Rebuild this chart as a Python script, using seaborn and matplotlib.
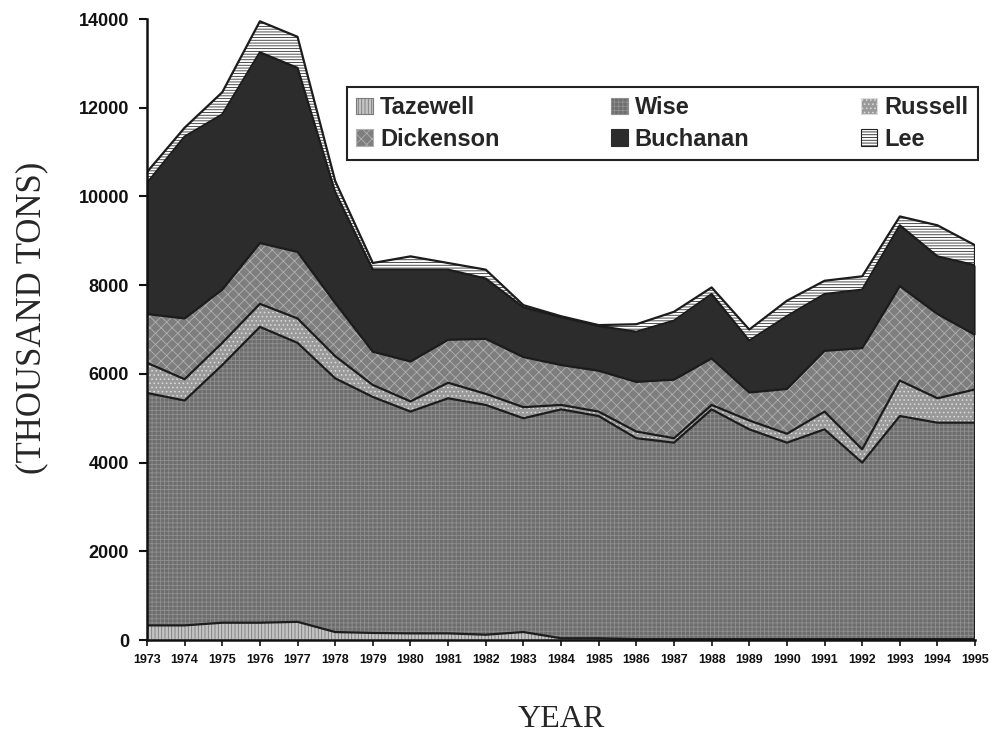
import numpy as np
import pandas as pd
import matplotlib
matplotlib.use("Agg")
import matplotlib.pyplot as plt
from matplotlib.patches import Patch
import seaborn as sns

# Données (milliers de tonnes)
years = list(range(1973, 1996))
counties = ["Tazewell", "Wise", "Russell", "Dickenson", "Buchanan", "Lee"]

tazewell = [330, 330, 390, 390, 410, 180, 160, 150, 150, 120, 180, 40,
            40, 20, 20, 20, 20, 20, 20, 20, 20, 20, 20]
wise = [5240, 5070, 5810, 6670, 6290, 5720, 5320, 5000, 5300, 5180, 4820, 5160,
        5010, 4530, 4430, 5180, 4730, 4430, 4730, 3980, 5030, 4880, 4880]
russell = [680, 480, 500, 520, 550, 500, 270, 230, 350, 250, 250, 100,
           100, 150, 100, 100, 200, 200, 400, 300, 800, 550, 750]
dickenson = [1100, 1370, 1200, 1370, 1500, 1200, 750, 900, 970, 1240, 1130, 900,
             920, 1120, 1320, 1050, 630, 1010, 1370, 2280, 2130, 1900, 1230]
buchanan = [2950, 4100, 3950, 4300, 4150, 2500, 1850, 2070, 1580, 1360, 1120, 1080,
            1010, 1130, 1330, 1450, 1170, 1640, 1280, 1320, 1370, 1300, 1570]
lee = [250, 200, 500, 700, 700, 250, 150, 300, 150, 200, 50, 20,
       20, 170, 200, 150, 250, 350, 300, 300, 200, 700, 450]

# Styles (niveaux de gris + motifs)
face_colors = ["#c4c4c4", "#6d6d6d", "#9a9a9a", "#7e7e7e", "#2c2c2c", "#ffffff"]
hatch_colors = ["#7a7a7a", "#8f8f8f", "#dcdcdc", "#b0b0b0", "#2c2c2c", "#303030"]
hatches = ["|||||", "++++", "....", "xxx", None, "------"]

sns.set_theme(style="ticks")
plt.rcParams['font.family'] = ['Liberation Sans', 'DejaVu Sans']
plt.rcParams['hatch.linewidth'] = 0.6

series = np.array([tazewell, wise, russell, dickenson, buchanan, lee], dtype=float)
tops = np.cumsum(series, axis=0)
bottoms = np.vstack([np.zeros(len(years)), tops[:-1]])

fig = plt.figure(figsize=(9.93, 7.36), dpi=100)
ax = fig.add_axes([0.148, 0.1304, 0.834, 0.8437])

# Surfaces empilées
for i, name in enumerate(counties):
    ax.fill_between(years, bottoms[i], tops[i], facecolor=face_colors[i],
                    edgecolor=hatch_colors[i], hatch=hatches[i], linewidth=0,
                    zorder=1)

# Contours entre les couches
lines = pd.DataFrame({
    "year": np.tile(years, len(counties)),
    "cum": tops.ravel(),
    "layer": np.repeat(counties, len(years)),
})
sns.lineplot(data=lines, x="year", y="cum", units="layer", estimator=None,
             color="#1c1c1c", linewidth=1.6, legend=False, ax=ax, zorder=2)
ax.plot([years[-1], years[-1]], [0, tops[-1][-1]], color="#1c1c1c",
        linewidth=1.6, zorder=2)

ax.set_xlim(years[0], years[-1])
ax.set_ylim(0, 14000)
ax.set_xticks(years)
ax.set_xticklabels([str(y) for y in years], fontsize=9, fontweight='bold')
ax.set_yticks(range(0, 14001, 2000))
ax.set_yticklabels([str(v) for v in range(0, 14001, 2000)], fontsize=13,
                   fontweight='bold')
ax.tick_params(axis='y', length=6, width=1.5, pad=7, colors='#111')
ax.tick_params(axis='x', length=4, width=1.2, pad=6, colors='#111')
ax.set_xlabel("")
ax.set_ylabel("")
for side in ["top", "right"]:
    ax.spines[side].set_visible(False)
for side in ["left", "bottom"]:
    ax.spines[side].set_linewidth(1.8)
    ax.spines[side].set_color("#111")
    ax.spines[side].set_zorder(3)

# Légende (ordre ligne par ligne)
handles = [Patch(facecolor=face_colors[i], edgecolor=hatch_colors[i] if i != 5 else "#222",
                 hatch=hatches[i], linewidth=0.8) for i in range(len(counties))]
order = [0, 3, 1, 4, 2, 5]
leg = ax.legend([handles[i] for i in order], [counties[i] for i in order],
                ncol=3, loc='lower left', bbox_to_anchor=(0.2415, 0.773, 0.762, 0.124),
                mode='expand', prop={'weight': 'bold', 'size': 17},
                frameon=True, fancybox=False, framealpha=1, edgecolor='#222',
                handlelength=0.7, handleheight=0.7, handletextpad=0.3,
                borderaxespad=0, columnspacing=1.0, labelspacing=0.35,
                borderpad=0.4)
leg.get_frame().set_linewidth(1.5)

fig.text(0.032, 0.568, "(THOUSAND TONS)", rotation=90, ha='center', va='center',
         fontsize=25, family=['Liberation Serif', 'DejaVu Serif'])
fig.text(0.565, 0.022, "YEAR", ha='center', va='center', fontsize=23,
         family=['Liberation Serif', 'DejaVu Serif'])

fig.savefig("out.png", dpi=100)
